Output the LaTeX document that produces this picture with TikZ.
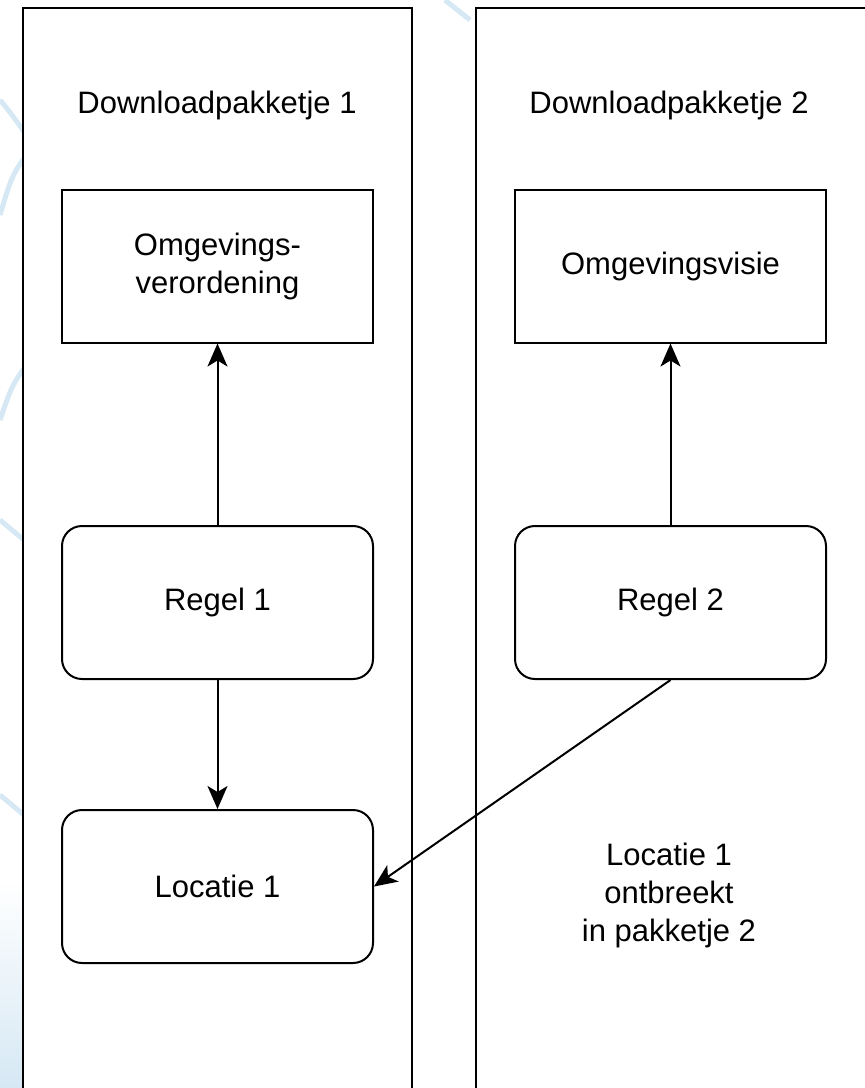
\documentclass[tikz,border=0pt]{standalone}
\usepackage{fontspec}
\setmainfont{Liberation Sans}
\usetikzlibrary{arrows.meta}
\definecolor{swoosh}{RGB}{214,232,244}
\tikzset{
  panel/.style={draw, line width=1pt, fill=white},
  doc/.style={draw, line width=1pt, minimum width=155.5pt, minimum height=76.5pt, align=center},
  rule/.style={doc, rounded corners=10pt},
  label/.style={align=center},
  link/.style={line width=1pt, -{Stealth[length=11.5pt, width=10pt, inset=3pt]}}
}
\begin{document}
\begin{tikzpicture}[x=0.5pt, y=-0.5pt, font=\fontsize{15.5}{19}\selectfont]
   \useasboundingbox (0,0) rectangle (864,1088);
   % background swooshes
   \draw[swoosh, line width=2.5pt] (0,100) .. controls (10,112) .. (30,140);
   \draw[swoosh, line width=2.5pt] (30,150) .. controls (12,175) .. (0,215);
   \draw[swoosh, line width=2.5pt] (30,360) .. controls (12,385) .. (0,420);
   \draw[swoosh, line width=2.5pt] (0,520) .. controls (12,530) .. (30,545);
   \draw[swoosh, line width=2.5pt] (0,795) .. controls (12,805) .. (30,820);
   \draw[swoosh, line width=2.5pt] (445,0) -- (470,20);
   \shade[top color=white, bottom color=swoosh] (0,880) rectangle (23,1088);
   % panels
   \draw[panel] (23,8) rectangle (412,1100);    % left panel
   \draw[panel] (476,8) rectangle (880,1100);   % right panel
   \node[label] (title1) at (217,105) {Downloadpakketje 1};
   \node[label] (title2) at (669,105) {Downloadpakketje 2};
   % documents
   \node[doc] (verordening) at (217.5,266) {Omgevings-\\verordening};
   \node[doc] (visie) at (670.5,266) {Omgevingsvisie};
   % rules and locations
   \node[rule] (regel1) at (217.5,602.5) {Regel 1};
   \node[rule] (regel2) at (670.5,602.5) {Regel 2};
   \node[rule] (locatie1) at (217.5,886.5) {Locatie 1};
   \node[label] (missing) at (669,895) {Locatie 1\\ontbreekt\\in pakketje 2};
   % connectors
   \draw[link] (regel1) -- (verordening);
   \draw[link] (regel2) -- (visie);
   \draw[link] (regel1) -- (locatie1);
   \draw[link] (regel2.south) -- (locatie1.east);
\end{tikzpicture}
\end{document}
